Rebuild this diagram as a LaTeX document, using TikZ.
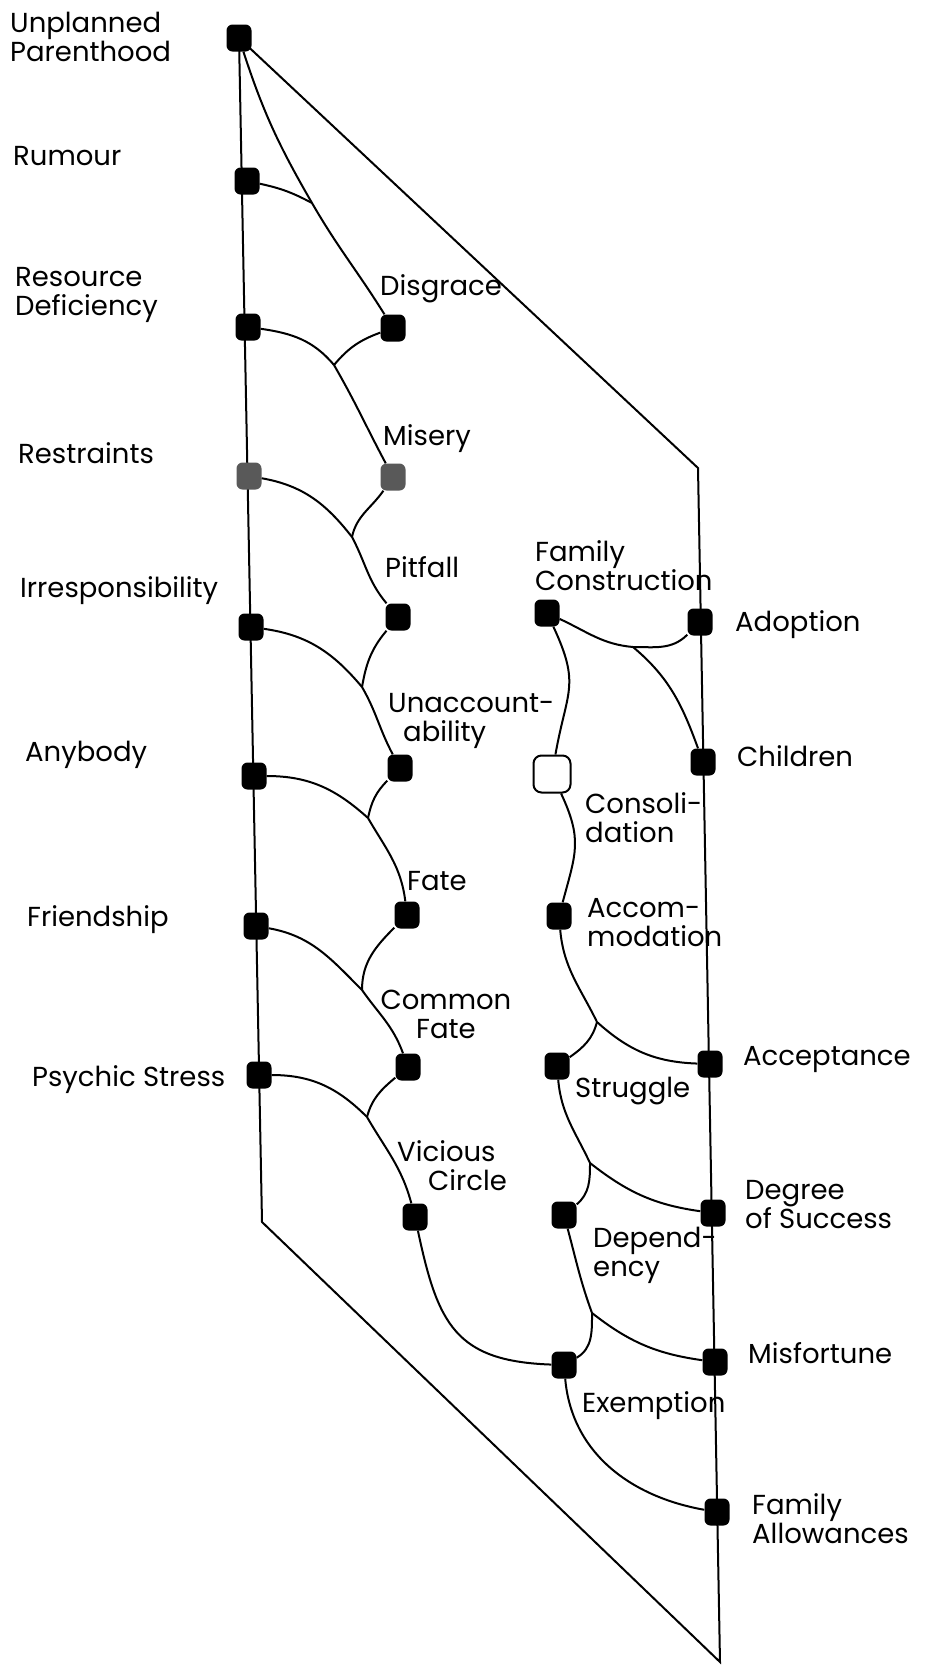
\documentclass[tikz,border=0pt]{standalone}
\usepackage{fontspec}
\setmainfont{Poppins}
\usepackage{tikz}

\begin{document}
\begin{tikzpicture}[x=1pt,y=-1pt,
  term/.style={fill=black, rounded corners=6pt, minimum width=25pt, minimum height=27pt, inner sep=0pt},
  greyterm/.style={term, fill=black!65},
  emptyterm/.style={draw, fill=white, line width=2pt, rounded corners=8pt, minimum size=37pt, inner sep=0pt},
  lbl/.style={anchor=base west, inner sep=0pt, align=left, font=\fontsize{27.5}{29}\selectfont},
  link/.style={line width=2pt}]
\useasboundingbox (0,0) rectangle (934,1666);
\coordinate (tl) at (239,38);  \coordinate (lb) at (262,1222);
\coordinate (bot) at (720,1662); \coordinate (rt) at (698,468);
\draw[link] (tl) -- (lb) -- (bot) -- (rt) -- cycle;

\node[term] (up) at (tl) {};
\node[term] (rum) at (247,181) {};
\node[term] (res) at (248,327) {};
\node[greyterm] (rst) at (249,476) {};
\node[term] (irr) at (251,627) {};
\node[term] (any) at (254,776) {};
\node[term] (fri) at (256,926) {};
\node[term] (psy) at (259,1075) {};
\node[term] (dis) at (393,328) {};
\node[greyterm] (mis) at (393,477) {};
\node[term] (pit) at (398,617) {};
\node[term] (una) at (400,768) {};
\node[term] (fat) at (407,915) {};
\node[term] (cfa) at (408,1067) {};
\node[term] (vic) at (415,1217) {};
\node[term] (fco) at (547,613) {};
\node[emptyterm] (con) at (552,774) {};
\node[term] (acc) at (559,916) {};
\node[term] (str) at (557,1066) {};
\node[term] (dep) at (564,1215) {};
\node[term] (exe) at (564,1365) {};
\node[term] (ado) at (700,622) {};
\node[term] (chi) at (703,762) {};
\node[term] (acp) at (710,1064) {};
\node[term] (deg) at (713,1213) {};
\node[term] (msf) at (715,1362) {};
\node[term] (fal) at (717,1512) {};

\node[lbl] (lup) at (10,61) {Unplanned\\Parenthood};
\node[lbl] (lrum) at (13,165) {Rumour};
\node[lbl] (lres) at (15,315) {Resource\\Deficiency};
\node[lbl] (lrst) at (18,463) {Restraints};
\node[lbl] (lirr) at (20,597) {Irresponsibility};
\node[lbl] (lany) at (25,761) {Anybody};
\node[lbl] (lfri) at (27,926) {Friendship};
\node[lbl] (lpsy) at (32,1086) {Psychic Stress};
\node[lbl] (ldis) at (380,295) {Disgrace};
\node[lbl] (lmis) at (383,445) {Misery};
\node[lbl] (lpit) at (385,577) {Pitfall};
\node[lbl] (luna) at (388,741) {Unaccount-\\\hspace*{15pt}ability};
\node[lbl] (lfat) at (407,890) {Fate};
\node[lbl, anchor=base, align=center] (lcfa) at (446,1038) {Common\\Fate};
\node[lbl] (lvic) at (397,1190) {Vicious\\\hspace*{31pt}Circle};
\node[lbl] (lfco) at (535,590) {Family\\Construction};
\node[lbl] (lcon) at (585,842) {Consoli-\\dation};
\node[lbl] (lacc) at (587,946) {Accom-\\modation};
\node[lbl] (lstr) at (575,1097) {Struggle};
\node[lbl] (ldep) at (593,1276) {Depend-\\ency};
\node[lbl] (lexe) at (582,1412) {Exemption};
\node[lbl] (lado) at (735,631) {Adoption};
\node[lbl] (lchi) at (737,766) {Children};
\node[lbl] (lacp) at (743,1065) {Acceptance};
\node[lbl] (ldeg) at (745,1228) {Degree\\of Success};
\node[lbl] (lmsf) at (748,1363) {Misfortune};
\node[lbl] (lfal) at (752,1543) {Family\\Allowances};

\coordinate (j1) at (312,203);  \coordinate (j2) at (334,365);
\coordinate (j3) at (352,537);  \coordinate (j4) at (362,687);
\coordinate (j5) at (368,818);  \coordinate (j6) at (362,990);
\coordinate (j7) at (367,1117); \coordinate (j8) at (592,1313);
\coordinate (j9) at (590,1163); \coordinate (j10) at (597,1022);
\coordinate (j11) at (633,647);

\draw[link] (up) to[out=-72,in=120] (j1) to[out=-60,in=122] (dis);
\draw[link] (rum) to[out=-12,in=152] (j1);
\draw[link] (res) to[out=-8,in=130] (j2) to[out=-60,in=118] (mis);
\draw[link] (dis) to[out=200,in=50] (j2);
\draw[link] (rst) to[out=-10,in=128] (j3) to[out=-62,in=130] (pit);
\draw[link] (mis) to[out=-125,in=78] (j3);
\draw[link] (irr) to[out=-8,in=130] (j4) to[out=-60,in=118] (una);
\draw[link] (pit) to[out=-130,in=80] (j4);
\draw[link] (any) to[out=0,in=138] (j5) to[out=-60,in=97] (fat);
\draw[link] (una) to[out=-135,in=78] (j5);
\draw[link] (fri) to[out=-10,in=135] (j6) to[out=-55,in=110] (cfa);
\draw[link] (fat) to[out=-135,in=90] (j6);
\draw[link] (psy) to[out=0,in=135] (j7) to[out=-60,in=105] (vic);
\draw[link] (cfa) to[out=-140,in=75] (j7);
\draw[link] (vic) to[out=-78,in=178,looseness=1.3] (exe);
\draw[link] (dep) to[out=-75,in=110] (j8) to[out=-38,in=172] (msf);
\draw[link] (exe) to[out=30,in=-90] (j8);
\draw[link] (str) to[out=-85,in=115] (j9) to[out=-38,in=172] (deg);
\draw[link] (dep) to[out=40,in=-90] (j9);
\draw[link] (acc) to[out=-85,in=116] (j10) to[out=-42,in=178] (acp);
\draw[link] (str) to[out=35,in=-105] (j10);
\draw[link] (fco) to[out=-25,in=175] (j11) to[out=0,in=-135] (ado);
\draw[link] (j11) to[out=-40,in=110] (chi);
\draw[link] (fco) to[out=-65,in=80,looseness=1.3] (con);
\draw[link] (con) to[out=-65,in=75,looseness=1.2] (acc);
\draw[link] (exe) to[out=-85,in=170] (fal);
\end{tikzpicture}
\end{document}
